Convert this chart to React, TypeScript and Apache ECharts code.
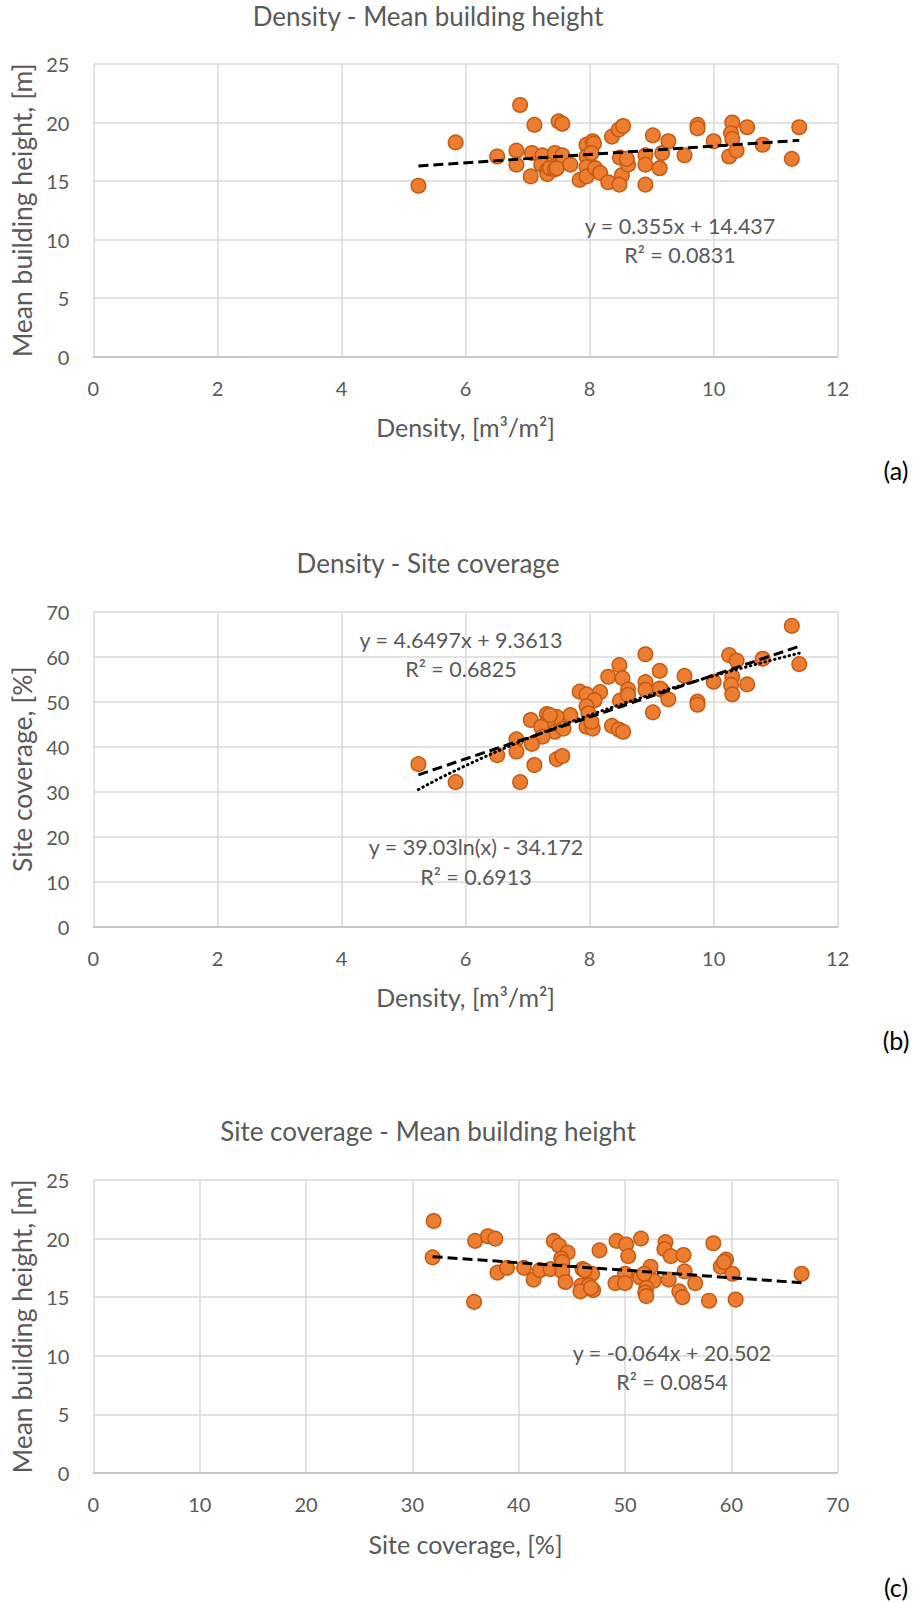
import React, { useEffect, useRef } from "react";
import * as echarts from "echarts";

// ---------- Data ----------
// (a) Density vs Mean building height
const densityA = [5.24, 5.84, 6.51, 6.88, 6.82, 6.82, 7.11, 7.05, 7.07, 7.24, 7.22, 7.31, 7.32, 7.36, 7.44, 7.44, 7.5, 7.56, 7.47, 7.56, 7.69, 7.84, 7.95, 8.05, 8.07, 7.95, 7.95, 7.95, 8.03, 8.09, 8.17, 8.3, 8.36, 8.47, 8.54, 8.49, 8.52, 8.48, 8.62, 8.6, 8.9, 8.9, 8.9, 9.02, 9.13, 9.17, 9.27, 9.53, 9.74, 9.74, 10.0, 10.25, 10.3, 10.28, 10.3, 10.37, 10.54, 10.79, 11.26, 11.38];
const heightA = [14.6, 18.3, 17.1, 21.5, 17.6, 16.4, 19.8, 15.4, 17.4, 17.2, 16.4, 15.9, 15.6, 16.1, 17.4, 16.0, 20.1, 19.9, 16.1, 17.2, 16.4, 15.1, 18.1, 18.4, 18.2, 17.1, 16.2, 15.4, 17.4, 16.1, 15.7, 14.9, 18.8, 19.4, 19.7, 17.0, 15.5, 14.7, 16.4, 16.9, 17.2, 16.4, 14.7, 18.9, 16.1, 17.4, 18.4, 17.2, 19.8, 19.5, 18.4, 17.1, 20.0, 19.1, 18.6, 17.6, 19.6, 18.1, 16.9, 19.6];

// (b) Density vs Site coverage
const densityB = [11.26, 11.38, 8.9, 10.25, 10.37, 10.79, 8.48, 8.3, 8.53, 9.13, 9.53, 8.9, 8.62, 10.0, 10.3, 10.28, 10.3, 10.54, 7.84, 7.95, 8.17, 8.08, 7.95, 8.49, 8.62, 8.9, 9.16, 9.27, 9.02, 9.74, 9.74, 7.98, 7.69, 7.31, 7.47, 7.05, 7.33, 7.36, 7.22, 7.44, 7.58, 7.95, 8.05, 8.36, 8.47, 8.54, 7.24, 7.07, 6.82, 6.82, 6.51, 7.47, 7.56, 7.11, 5.24, 5.84, 6.88, 8.03, 9.13];
const coverageB = [66.8, 58.3, 60.5, 60.3, 59.1, 59.5, 58.1, 55.5, 55.2, 56.8, 55.7, 54.3, 52.7, 54.4, 55.5, 53.7, 51.6, 53.8, 52.2, 51.6, 52.1, 50.3, 49.0, 50.2, 51.5, 52.6, 52.6, 50.5, 47.6, 50.0, 49.3, 47.4, 47.0, 47.2, 46.6, 45.9, 46.0, 47.0, 44.4, 43.3, 44.0, 44.4, 44.0, 44.6, 43.8, 43.3, 42.2, 40.6, 41.6, 38.9, 38.1, 37.2, 37.9, 35.9, 36.1, 32.1, 32.1, 45.5, 52.9];

// (c) Site coverage vs Mean building height
const coverageC = [32.0, 31.9, 35.9, 37.1, 37.8, 38.0, 38.9, 40.5, 41.4, 42.0, 43.0, 43.3, 43.8, 44.6, 44.0, 44.1, 44.1, 44.4, 46.0, 46.9, 45.9, 46.6, 47.6, 49.2, 50.1, 50.3, 50.0, 49.1, 50.0, 51.5, 51.4, 52.4, 52.7, 53.8, 53.7, 54.3, 55.5, 55.6, 54.1, 56.6, 58.3, 59.5, 59.0, 60.1, 66.6, 45.8, 47.0, 46.8, 52.0, 51.9, 52.0, 55.1, 55.4, 57.9, 60.4, 35.8, 51.8, 46.2, 59.3];
const heightC = [21.5, 18.4, 19.8, 20.2, 20.0, 17.1, 17.5, 17.5, 16.5, 17.3, 17.4, 19.8, 19.4, 18.8, 18.3, 18.0, 17.2, 16.3, 17.4, 17.0, 16.0, 16.0, 19.0, 19.8, 19.5, 18.5, 17.0, 16.2, 16.2, 20.0, 16.7, 17.6, 16.4, 19.7, 19.1, 18.5, 18.6, 17.2, 16.5, 16.2, 19.6, 18.2, 17.6, 17.0, 17.0, 15.5, 15.6, 15.8, 15.8, 15.4, 15.1, 15.5, 15.0, 14.7, 14.8, 14.6, 17.0, 17.3, 18.0];

// Trendline coefficients (from the printed equations)
const linFitA = [0.355, 14.437];
const linFitB = [4.6497, 9.3613];
const logFitB = [39.03, -34.172];
const linFitC = [-0.064, 20.502];

const titles = ["Density - Mean building height", "Density - Site coverage", "Site coverage - Mean building height"];
const xNames = ["Density, [m³/m²]", "Density, [m³/m²]", "Site coverage, [%]"];
const yNames = ["Mean building height, [m]", "Site coverage, [%]", "Mean building height, [m]"];
const panelLabels = ["(a)", "(b)", "(c)"];
const eqLines = [
  ["y = 0.355x + 14.437", "R² = 0.0831"],
  ["y = 4.6497x + 9.3613", "R² = 0.6825"],
  ["y = 39.03ln(x) - 34.172", "R² = 0.6913"],
  ["y = -0.064x + 20.502", "R² = 0.0854"],
];

// ---------- Style ----------
const FONT = "Lato";
const TXT = "#595959";
const GRID_C = "#d9d9d9";
const AXIS_C = "#bfbfbf";

const pair = (xs: number[], ys: number[]) => xs.map((x, i) => [x, ys[i]]);
const linLine = (xs: number[], f: number[]) => {
  const a = Math.min(...xs), b = Math.max(...xs);
  return [[a, f[0] * a + f[1]], [b, f[0] * b + f[1]]];
};
const logLine = (xs: number[], f: number[]) => {
  const a = Math.min(...xs), b = Math.max(...xs);
  const out: number[][] = [];
  const n = 40;
  for (let i = 0; i <= n; i++) {
    const x = a + ((b - a) * i) / n;
    out.push([x, f[0] * Math.log(x) + f[1]]);
  }
  return out;
};

function buildOption() {
  const L = 93.4, W = 744.3;
  const grids = [
    { left: L, width: W, top: 64, height: 292.7 },
    { left: L, width: W, top: 611.5, height: 315.2 },
    { left: L, width: W, top: 1180, height: 293 },
  ];
  const xRanges = [[0, 12, 2], [0, 12, 2], [0, 70, 10]];
  const yRanges = [[0, 25, 5], [0, 70, 10], [0, 25, 5]];

  const xAxis = grids.map((_, i) => ({
    type: "value",
    gridIndex: i,
    min: xRanges[i][0], max: xRanges[i][1], interval: xRanges[i][2],
    axisLine: { show: true, lineStyle: { color: AXIS_C, width: 1.5 } },
    axisTick: { show: false },
    splitLine: { show: true, lineStyle: { color: GRID_C, width: 1.5 } },
    axisLabel: { color: TXT, fontSize: 20, fontFamily: FONT, margin: 21 },
    name: xNames[i],
    nameLocation: "middle",
    nameGap: 58,
    nameTextStyle: { color: TXT, fontSize: 25, fontFamily: FONT },
  }));
  const yAxis = grids.map((_, i) => ({
    type: "value",
    gridIndex: i,
    min: yRanges[i][0], max: yRanges[i][1], interval: yRanges[i][2],
    axisLine: { show: false },
    axisTick: { show: false },
    splitLine: { show: true, lineStyle: { color: GRID_C, width: 1.5 } },
    axisLabel: { color: TXT, fontSize: 20, fontFamily: FONT, margin: 24 },
    name: yNames[i],
    nameLocation: "middle",
    nameGap: 57,
    nameTextStyle: { color: TXT, fontSize: 26.5, fontFamily: FONT },
  }));

  const scatterStyle = {
    type: "scatter",
    symbol: "circle",
    symbolSize: 14.5,
    itemStyle: { color: "#ED7D31", borderColor: "#C55A11", borderWidth: 1.5, opacity: 1 },
    z: 2,
  };
  const dashed = { color: "#000", width: 3, type: [10, 5] };
  const dotted = { color: "#000", width: 3, type: [0.5, 4.5], cap: "round" };

  const series: any[] = [
    { ...scatterStyle, xAxisIndex: 0, yAxisIndex: 0, data: pair(densityA, heightA) },
    { ...scatterStyle, xAxisIndex: 1, yAxisIndex: 1, data: pair(densityB, coverageB) },
    { ...scatterStyle, xAxisIndex: 2, yAxisIndex: 2, data: pair(coverageC, heightC) },
    { type: "line", xAxisIndex: 0, yAxisIndex: 0, showSymbol: false, silent: true, z: 3, lineStyle: dashed, data: linLine(densityA, linFitA) },
    { type: "line", xAxisIndex: 1, yAxisIndex: 1, showSymbol: false, silent: true, z: 3, lineStyle: dashed, data: linLine(densityB, linFitB) },
    { type: "line", xAxisIndex: 1, yAxisIndex: 1, showSymbol: false, silent: true, z: 3, lineStyle: dotted, data: logLine(densityB, logFitB) },
    { type: "line", xAxisIndex: 2, yAxisIndex: 2, showSymbol: false, silent: true, z: 3, lineStyle: dashed, data: linLine(coverageC, linFitC) },
  ];

  const titleTops = [3, 550, 1118];
  const title = titles.map((t, i) => ({
    text: t,
    left: 428,
    top: titleTops[i],
    textAlign: "center",
    padding: 0,
    textStyle: { color: TXT, fontSize: 26, fontWeight: "normal", fontFamily: FONT },
  }));

  const eqPos = [[680, 225.7, 255], [461, 640, 669], [476, 847.3, 876.7], [672, 1353.3, 1382]];
  const graphic: any[] = [];
  eqPos.forEach((p, i) => {
    eqLines[i].forEach((s, j) => {
      graphic.push({
        type: "text", x: p[0], y: p[1 + j], z: 10,
        style: { text: s, fill: TXT, font: `21.5px ${FONT}`, textAlign: "center", textVerticalAlign: "middle" },
      });
    });
  });
  const lblY = [470, 1040, 1587];
  panelLabels.forEach((s, i) => {
    graphic.push({
      type: "text", x: 896, y: lblY[i],
      style: { text: s, fill: "#000", font: `25px ${FONT}`, textAlign: "center", textVerticalAlign: "middle" },
    });
  });

  return { animation: false, backgroundColor: "#fff", title, grid: grids, xAxis, yAxis, series, graphic };
}

export default function App() {
  const ref = useRef<HTMLDivElement>(null);
  useEffect(() => {
    document.body.style.margin = "0";
    const chart = echarts.init(ref.current!, null, { renderer: "svg" });
    chart.setOption(buildOption() as any);
    return () => chart.dispose();
  }, []);
  return <div ref={ref} style={{ width: 916, height: 1602 }} />;
}
